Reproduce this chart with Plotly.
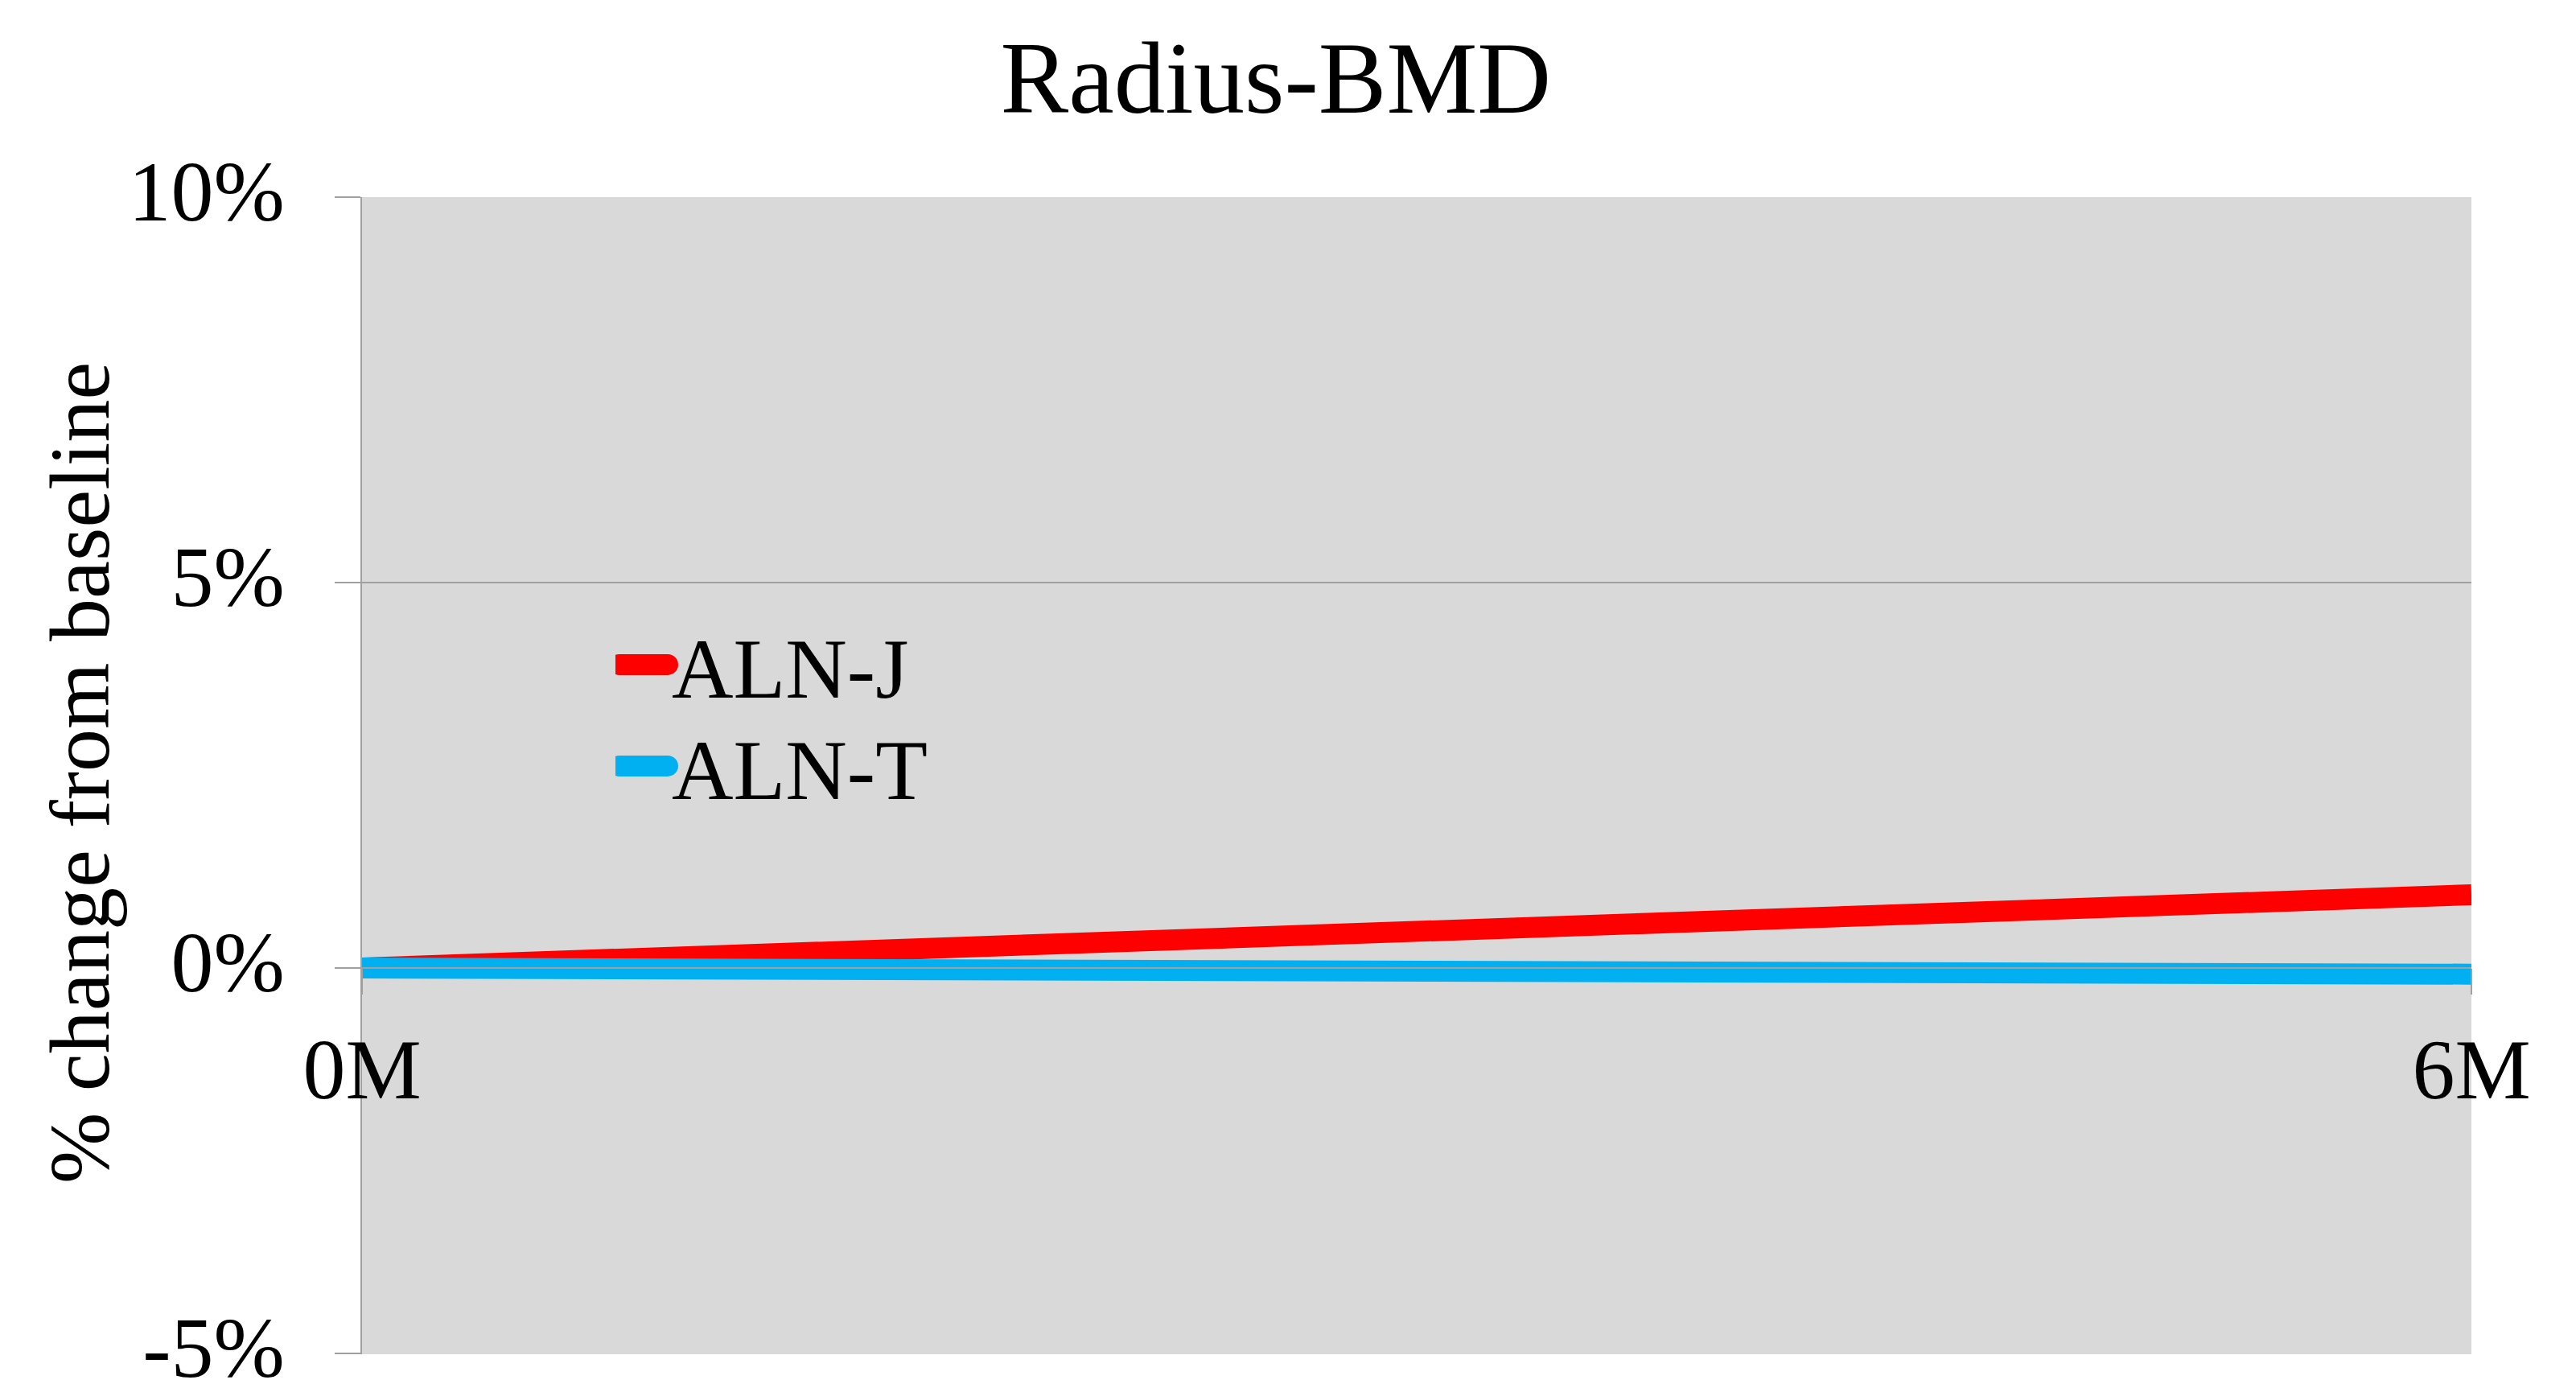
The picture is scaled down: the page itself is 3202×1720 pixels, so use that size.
import plotly.graph_objects as go

# ---- data ----
months = ["0M", "6M"]
aln_j = [0.0, 0.95]      # % change from baseline
aln_t = [0.0, -0.08]
series_names = ["ALN-J", "ALN-T"]
series_colors = ["#FF0000", "#00B0F0"]
y_tickvals = [-5, 0, 5, 10]
y_ticktext = ["-5%", "0%", "5%", "10%"]
y_range = [-5.01, 10]
y_title = "% change from baseline"
chart_title = "Radius-BMD"

FONT = "Liberation Serif, Times New Roman, serif"
GRID = "#a0a0a0"

W, H = 3194, 1720
L, R, T, B = 442, 130, 237, 45
PW, PH = W - L - R, H - T - B

fig = go.Figure()
legends = ["legend", "legend2"]
for name, vals, col, lg in zip(series_names, [aln_j, aln_t], series_colors, legends):
    fig.add_trace(go.Scatter(
        x=months, y=vals, name=name, mode="lines",
        line=dict(color=col, width=26), legend=lg,
    ))

xpos = (0 - y_range[0]) / (y_range[1] - y_range[0])

leg_common = dict(xanchor="left", yanchor="middle", bgcolor="rgba(0,0,0,0)",
                  font=dict(family=FONT, size=106, color="black"), itemwidth=60)

fig.update_layout(
    width=W, height=H,
    margin=dict(l=L, r=R, t=T, b=B, autoexpand=False),
    paper_bgcolor="white",
    plot_bgcolor="#d9d9d9",
    font=dict(family=FONT, size=106, color="black"),
    title=dict(text=chart_title, x=0.494, xref="container", xanchor="center",
               y=1 - 88 / H, yref="container", yanchor="middle",
               font=dict(family=FONT, size=127, color="black")),
    showlegend=True,
    legend=dict(x=(757 - L) / PW, y=(H - B - 818) / PH, **leg_common),
    legend2=dict(x=(757 - L) / PW, y=(H - B - 944) / PH, **leg_common),
    xaxis=dict(type="category", categoryorder="array", categoryarray=months,
               range=[0, 1], anchor="free", position=xpos,
               showline=True, linecolor=GRID, linewidth=2,
               ticks="outside", ticklen=32, tickwidth=2, tickcolor=GRID,
               showgrid=False, zeroline=False, ticklabelstandoff=2,
               ticklabeloverflow="allow",
               tickfont=dict(family=FONT, size=106)),
    yaxis=dict(range=y_range, tickvals=y_tickvals, ticktext=y_ticktext,
               showline=True, linecolor=GRID, linewidth=2,
               showgrid=True, gridcolor=GRID, gridwidth=2,
               ticks="outside", ticklen=32, tickwidth=2, tickcolor=GRID,
               zeroline=False, ticklabelstandoff=41, ticklabelshift=-8,
               ticklabeloverflow="allow", automargin=False,
               tickfont=dict(family=FONT, size=106)),
    annotations=[dict(text=y_title, textangle=-90, showarrow=False,
                      xref="paper", yref="paper",
                      x=(91 - L) / PW, y=(H - B - 952) / PH,
                      xanchor="center", yanchor="middle",
                      font=dict(family=FONT, size=106, color="black"))],
)

post = (
    "document.documentElement.style.overflow='hidden';"
    "document.body.style.overflow='hidden';"
    "var gd=document.getElementById('{plot_id}');"
    "gd.querySelectorAll('g.legendlines path').forEach(function(p){"
    "p.style.strokeWidth='26px';p.style.strokeLinecap='round';});"
)
fig.write_html("out.html", post_script=post)
